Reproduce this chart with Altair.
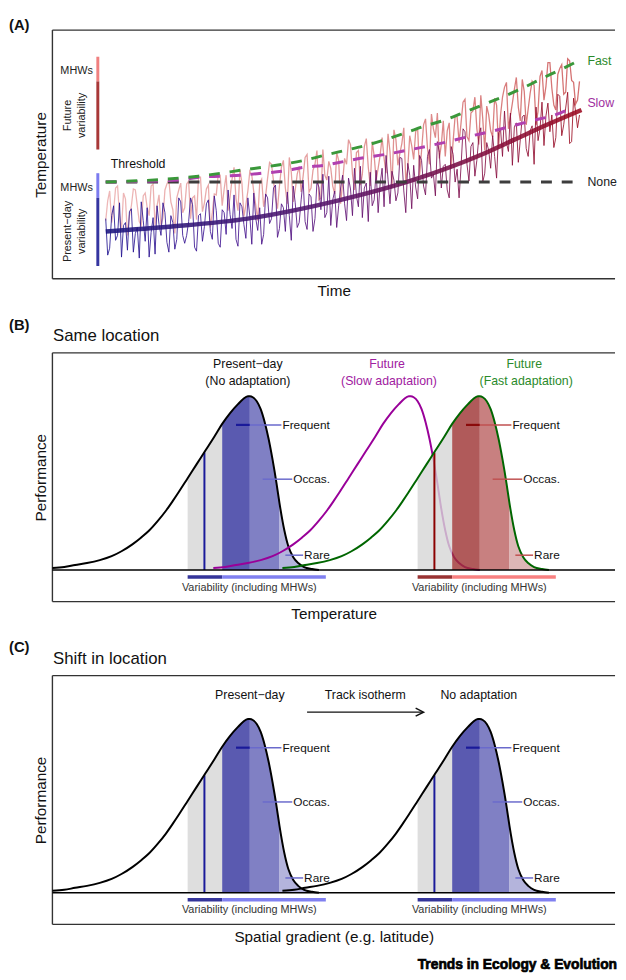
import altair as alt
import pandas as pd

FONT = "Liberation Sans"
W, H = 570, 252
DOM_A = [0, 252]
DOM_BC = [-32, 220]

# ---------------- Panel A : temperature time series ----------------
# main temperature series, read in two interleaved passes (even / odd time steps)
time_dark_a = list(range(54, 535, 4))
temp_dark_a = [61, 31, 74, 44, 22, 57, 68, 27, 52, 78,
               38, 22, 62, 74, 44, 67, 27, 57, 40, 78,
               36, 58, 75, 28, 66, 53, 80, 40, 69, 32,
               67, 90, 51, 40, 77, 55, 82, 35, 61, 72,
               45, 82, 61, 95, 51, 72, 88, 39, 77, 57,
               100, 50, 83, 61, 93, 106, 67, 54, 89, 74,
               105, 59, 91, 112, 73, 62, 97, 108, 80, 67,
               112, 125, 76, 100, 87, 122, 67, 105, 115, 81,
               120, 85, 131, 106, 139, 92, 116, 82, 126, 111,
               114, 149, 99, 138, 120, 153, 107, 130, 145, 102,
               152, 170, 129, 115, 158, 141, 166, 124, 155, 174,
               152, 135, 178, 166, 143, 185, 156, 189, 139, 170,
               166]
time_dark_b = list(range(56, 533, 4))
temp_dark_b = [24, 64, 39, 77, 54, 29, 71, 46, 21, 59,
               72, 47, 25, 55, 77, 37, 64, 30, 82, 44,
               44, 82, 32, 64, 38, 76, 48, 84, 36, 70,
               45, 65, 85, 33, 73, 41, 63, 87, 49, 35,
               86, 56, 92, 42, 76, 48, 64, 94, 52, 80,
               58, 86, 48, 98, 70, 62, 104, 80, 52, 92,
               76, 102, 64, 84, 114, 92, 58, 74, 110, 96,
               73, 101, 109, 79, 123, 89, 117, 71, 93, 125,
               94, 124, 102, 84, 128, 114, 90, 134, 98, 82,
               152, 116, 134, 104, 144, 98, 138, 112, 124, 148,
               124, 138, 168, 154, 118, 164, 132, 150, 116, 140,
               179, 165, 149, 133, 187, 145, 173, 137, 183, 153]
# series including marine heatwave peaks
time_mhw_a = list(range(56, 533, 4))
temp_mhw_a = [79, 57, 92, 64, 87, 44, 74, 90, 58, 84,
              72, 94, 54, 85, 62, 96, 78, 46, 90, 67,
              96, 61, 84, 103, 68, 91, 52, 86, 106, 74,
              105, 83, 113, 69, 97, 75, 109, 88, 59, 101,
              84, 118, 99, 71, 113, 92, 123, 78, 106, 88,
              123, 88, 110, 130, 82, 105, 119, 94, 128, 76,
              122, 141, 106, 128, 95, 134, 113, 139, 100, 125,
              122, 147, 92, 141, 127, 153, 112, 135, 149, 105,
              156, 132, 167, 143, 122, 160, 150, 112, 165, 138,
              179, 144, 168, 184, 136, 162, 175, 150, 183, 132,
              184, 199, 165, 192, 174, 202, 156, 188, 196, 170,
              211, 195, 219, 176, 207, 217, 189, 221, 199, 181]
time_mhw_b = list(range(54, 535, 4))
temp_mhw_b = [59, 89, 69, 94, 49, 81, 64, 91, 74, 54,
              87, 64, 96, 74, 54, 90, 100, 70, 82, 97,
              72, 99, 82, 60, 103, 77, 95, 67, 85, 105,
              91, 69, 101, 81, 111, 63, 89, 105, 75, 97,
              73, 102, 116, 82, 94, 120, 76, 108, 90, 114,
              104, 126, 92, 116, 80, 131, 100, 112, 86, 120,
              98, 116, 136, 90, 130, 106, 142, 94, 124, 112,
              143, 107, 129, 151, 115, 137, 99, 145, 121, 153,
              130, 162, 116, 152, 168, 136, 124, 158, 140, 164,
              158, 182, 140, 170, 152, 186, 130, 166, 144, 176,
              166, 194, 152, 178, 204, 160, 190, 172, 200, 156,
              205, 181, 219, 193, 171, 213, 187, 223, 201, 177,
              200]
trend_time = [54, 121, 198, 288, 368, 435, 468, 501, 536]
trend_temp = [48, 53, 61, 79, 101, 126, 141, 156, 171]
fast_time = [54, 128, 148, 171, 191, 213, 233, 255, 275, 296, 317, 337, 358, 378,
             398, 418, 438, 458, 478, 496, 515, 535]
fast_temp = [98, 102, 104, 107, 110, 113, 116, 120, 125, 130, 135, 141, 148, 155,
             161, 169, 177, 185, 194, 203, 212, 222]
slow_time = [54, 128, 149, 171, 191, 213, 233, 255, 275, 296, 317, 337, 358, 378,
             401, 421, 443, 463, 485, 506, 526]
slow_temp = [98, 100, 103, 104, 105, 107, 109, 113, 115, 119, 123, 126, 130, 134,
             139, 144, 149, 154, 160, 165, 173]
none_time = [54, 534]
none_temp = [98, 98]

# ---------------- Panels B/C : thermal performance curve ----------------
tpc_temp = [0, 12, 23, 35, 48, 60, 70, 81, 90, 98, 107, 115, 122, 128, 137, 146, 155, 164,
            172, 180, 188, 193, 198, 200, 203, 207, 211, 215, 219, 223, 227, 230, 235, 239,
            244, 249, 255, 263, 270]
tpc_perf = [2, 3, 5, 7, 10, 14, 19, 26, 33, 40, 50, 60, 70, 79, 93, 107, 121, 135,
            148, 159, 168, 173, 176, 176, 175, 171, 163, 150, 133, 112, 88, 68, 40, 24,
            13, 7, 3, 1, 0]
region_bounds = [137, 172, 200, 230, 270]     # grey | frequent | occasional | rare
shift_slow = 163
shift_fast = 233
present_line_temp = 154
present_line_perf = 119

BLUE_FILLS = ["#d6d6d6", "#31319c", "#6060b5", "#a1a1d3"]
RED_FILLS = ["#d6d6d6", "#9c3131", "#ba6060", "#d4a4a4"]


def grad(colors):
    n = len(colors) - 1
    return alt.LinearGradient(
        gradient="linear", x1=0, x2=1, y1=0, y2=0,
        stops=[alt.GradientStop(color=c, offset=i / n) for i, c in enumerate(colors)])


def make_panel(dom, xtitle, ytitle):
    X = alt.X("x:Q", scale=alt.Scale(domain=[0, W], nice=False, zero=False), title=xtitle)
    Y = alt.Y("y:Q", scale=alt.Scale(domain=dom, nice=False, zero=False), title=ytitle)

    def layer(df, mtype, enc=None, **props):
        ch = getattr(alt.Chart(df), "mark_" + mtype)(**props)
        e = dict(x=X, y=Y)
        if enc:
            e.update(enc)
        return ch.encode(**e)

    def frame():
        df = pd.DataFrame({"x": [0, 0, 0], "x2": [W, W, 0],
                           "y": [dom[0], dom[1], dom[0]], "y2": [dom[0], dom[1], dom[1]]})
        return layer(df, "rule", {"x2": "x2:Q", "y2": "y2:Q"}, color="#333333", strokeWidth=1.4)

    def texts(rows, **props):
        df = pd.DataFrame(rows, columns=["x", "y", "t", "c", "s"])
        return layer(df, "text", {"text": "t:N", "color": alt.Color("c:N", scale=None),
                                  "size": alt.Size("s:Q", scale=None)},
                     baseline="middle", **props)

    def hrules(rows, **props):
        df = pd.DataFrame(rows, columns=["x", "x2", "y", "c", "w"])
        return layer(df, "rule", {"x2": "x2:Q", "color": alt.Color("c:N", scale=None),
                                  "strokeWidth": alt.StrokeWidth("w:Q", scale=None)}, **props)

    def vrules(rows, **props):
        df = pd.DataFrame(rows, columns=["x", "y", "y2", "c", "w"])
        return layer(df, "rule", {"y2": "y2:Q", "color": alt.Color("c:N", scale=None),
                                  "strokeWidth": alt.StrokeWidth("w:Q", scale=None)}, **props)

    return layer, frame, texts, hrules, vrules


def series_df(t1, v1, t2, v2):
    df = pd.DataFrame({"x": t1 + t2, "y": v1 + v2})
    return df.sort_values("x").reset_index(drop=True)


# ======================= Panel A =======================
layerA, frameA, textsA, hrA, vrA = make_panel(DOM_A, "Time", "Temperature")
lyrs = [frameA()]
lyrs.append(layerA(series_df(time_mhw_a, temp_mhw_a, time_mhw_b, temp_mhw_b), "line",
                   color=grad(["#eeb8b8", "#e39a9a", "#d47070"]), strokeWidth=1.3, opacity=1))
lyrs.append(layerA(series_df(time_dark_a, temp_dark_a, time_dark_b, temp_dark_b), "line",
                   color=grad(["#1e1290", "#3d1090", "#5d0f74", "#7e0c4a", "#9c0a1c"]),
                   strokeWidth=1, opacity=0.85))
lyrs.append(layerA(pd.DataFrame({"x": trend_time, "y": trend_temp}), "line",
                   color=grad(["#1a1680", "#5a1468", "#9c0a20"]), strokeWidth=4.5,
                   opacity=0.88, interpolate="monotone"))
lyrs.append(layerA(pd.DataFrame({"x": none_time, "y": none_temp}), "line",
                   color="#3d3d3d", strokeWidth=3, strokeDash=[11, 10]))
lyrs.append(layerA(pd.DataFrame({"x": slow_time, "y": slow_temp}), "line",
                   color="#b040b0", strokeWidth=3, strokeDash=[11, 10], interpolate="monotone"))
lyrs.append(layerA(pd.DataFrame({"x": fast_time, "y": fast_temp}), "line",
                   color="#3a983a", strokeWidth=3, strokeDash=[11, 10], interpolate="monotone"))
lyrs.append(vrA([[46, 200, 225, "#f08080", 3], [46, 131, 200, "#a83838", 3],
                 [46, 82, 107, "#7b7bef", 3], [46, 13, 82, "#3535a0", 3]]))
lyrs.append(textsA([[-44, 257, "(A)", "#111111", 15]], align="left", fontWeight="bold"))
lyrs.append(textsA([[59, 116, "Threshold", "#111111", 12.5],
                    [542, 221, "Fast", "#2a8a2a", 12.5],
                    [542, 178, "Slow", "#a030a0", 12.5],
                    [542, 98, "None", "#222222", 12.5]], align="left"))
lyrs.append(textsA([[41, 210, "MHWs", "#222222", 11],
                    [41, 92, "MHWs", "#222222", 11]], align="right"))
lyrs.append(textsA([[15.5, 165.5, "Future", "#222222", 11],
                    [30, 165.5, "variability", "#222222", 11],
                    [15.5, 48, "Present\u2212day", "#222222", 11],
                    [30, 48, "variability", "#222222", 11]], align="center", angle=270))
panelA = alt.layer(*lyrs).properties(width=W, height=H)


# ======================= Panels B and C helpers =======================
def curve_df(shift):
    return pd.DataFrame({"x": [t + shift for t in tpc_temp], "y": tpc_perf})


def region_layers(layer, shift, fills):
    out = []
    for i, col in enumerate(fills):
        lo, hi = region_bounds[i], region_bounds[i + 1]
        pts = [(t + shift, p) for t, p in zip(tpc_temp, tpc_perf) if lo <= t <= hi]
        df = pd.DataFrame({"x": [a for a, _ in pts], "y": [b for _, b in pts],
                           "y0": [0] * len(pts)})
        out.append(layer(df, "area", {"y2": "y0:Q"}, color=col, opacity=0.8,
                         interpolate="monotone"))
    return out


def label_lines(hr, shift, dark, light):
    s = shift
    return hr([[186 + s, 200 + s, 147, dark, 2.2],
               [200 + s, 232 + s, 147, light, 1.5],
               [213 + s, 243 + s, 92, light, 1.5],
               [236 + s, 254 + s, 15, light, 1.5]])


def label_texts(tx, shift):
    s = shift
    return tx([[233 + s, 147, "Frequent", "#111111", 12],
               [244 + s, 92, "Occas.", "#111111", 12],
               [255 + s, 15, "Rare", "#111111", 12]], align="left")


def var_bars(hr, shift, dark, light):
    s = shift
    return hr([[137 + s, 172 + s, -7, dark, 3.5], [172 + s, 277 + s, -7, light, 3.5]])


# ======================= Panel B =======================
layerB, frameB, textsB, hrB, vrB = make_panel(DOM_BC, "Temperature", "Performance")
lb = [frameB()]
lb += region_layers(layerB, 0, BLUE_FILLS)
lb.append(vrB([[present_line_temp, 0, present_line_perf, "#1a1a9a", 2]]))
lb.append(layerB(curve_df(0), "line", color="#000000", strokeWidth=2, interpolate="monotone"))
lb.append(label_lines(hrB, 0, "#1a1a9a", "#6a6acc"))
lb.append(layerB(curve_df(shift_slow), "line", color="#990099", strokeWidth=2,
                 interpolate="monotone"))
lb += region_layers(layerB, shift_fast, RED_FILLS)
lb.append(vrB([[present_line_temp + shift_fast, 0, present_line_perf, "#8b0000", 2]]))
lb.append(layerB(curve_df(shift_fast), "line", color="#006600", strokeWidth=2,
                 interpolate="monotone"))
lb.append(label_lines(hrB, shift_fast, "#8b0a0a", "#c05050"))
lb.append(layerB(pd.DataFrame({"x": [0], "x2": [W], "y": [0]}), "rule", {"x2": "x2:Q"},
                 color="#000000", strokeWidth=1.5))
lb.append(var_bars(hrB, 0, "#35359a", "#8080f0"))
lb.append(var_bars(hrB, shift_fast, "#993333", "#f88080"))
lb.append(label_texts(textsB, 0))
lb.append(label_texts(textsB, shift_fast))
lb.append(textsB([[-44, 248.5, "(B)", "#111111", 15]], align="left", fontWeight="bold"))
lb.append(textsB([[0.7, 236.5, "Same location", "#111111", 17]], align="left"))
lb.append(textsB([[198, 209, "Present\u2212day", "#111111", 12.5],
                  [198, 191, "(No adaptation)", "#111111", 12.5],
                  [339, 209, "Future", "#a020a0", 12.5],
                  [341, 191, "(Slow adaptation)", "#a020a0", 12.5],
                  [478, 209, "Future", "#2a8a2a", 12.5],
                  [480, 191, "(Fast adaptation)", "#2a8a2a", 12.5],
                  [199.5, -18, "Variability (including MHWs)", "#333333", 11],
                  [432.5, -18, "Variability (including MHWs)", "#333333", 11]],
                 align="center"))
panelB = alt.layer(*lb).properties(width=W, height=H)

# ======================= Panel C =======================
layerC, frameC, textsC, hrC, vrC = make_panel(DOM_BC, "Spatial gradient (e.g. latitude)",
                                              "Performance")
lc = [frameC()]
for sh in (0, shift_fast):
    lc += region_layers(layerC, sh, BLUE_FILLS)
    lc.append(vrC([[present_line_temp + sh, 0, present_line_perf, "#1a1a9a", 2]]))
    lc.append(layerC(curve_df(sh), "line", color="#000000", strokeWidth=2,
                     interpolate="monotone"))
    lc.append(label_lines(hrC, sh, "#1a1a9a", "#6a6acc"))
lc.append(layerC(pd.DataFrame({"x": [0], "x2": [W], "y": [0]}), "rule", {"x2": "x2:Q"},
                 color="#000000", strokeWidth=1.5))
for sh in (0, shift_fast):
    lc.append(var_bars(hrC, sh, "#35359a", "#8080f0"))
    lc.append(label_texts(textsC, sh))
lc.append(layerC(pd.DataFrame({"x": [258], "x2": [375], "y": [183]}), "rule", {"x2": "x2:Q"},
                 color="#111111", strokeWidth=1.5))
lc.append(layerC(pd.DataFrame({"x": [376], "y": [183]}), "point",
                 shape="M -2 -1 L 0 0 L -2 1", filled=False, size=64, color="#111111",
                 strokeWidth=1.5, opacity=1))
lc.append(textsC([[-44, 248.5, "(C)", "#111111", 15]], align="left", fontWeight="bold"))
lc.append(textsC([[0.7, 236.5, "Shift in location", "#111111", 17]], align="left"))
lc.append(textsC([[200, 200, "Present\u2212day", "#111111", 12.5],
                  [317, 200, "Track isotherm", "#111111", 12.5],
                  [432, 200, "No adaptation", "#111111", 12.5],
                  [199.5, -18, "Variability (including MHWs)", "#333333", 11],
                  [432.5, -18, "Variability (including MHWs)", "#333333", 11]],
                 align="center"))
lc.append(textsC([[572, -73, "Trends in Ecology & Evolution", "#000000", 14]],
                 align="right", fontWeight="bold", stroke="#000000", strokeWidth=0.7))
panelC = alt.layer(*lc).properties(width=W, height=H)

chart = (
    alt.vconcat(panelA, panelB, panelC, spacing=17)
    .properties(padding={"left": 0, "top": 3, "right": 0, "bottom": 0})
    .configure(font=FONT)
    .configure_view(stroke="transparent")
    .configure_axis(domain=False, ticks=False, labels=False, grid=False,
                    titleFont=FONT, titleFontSize=15.5, titleFontWeight="normal",
                    titleColor="#111111")
    .configure_axisX(titlePadding=5)
    .configure_axisY(titlePadding=4)
)

chart.save("out.html", embed_options={"renderer": "svg", "actions": False})
